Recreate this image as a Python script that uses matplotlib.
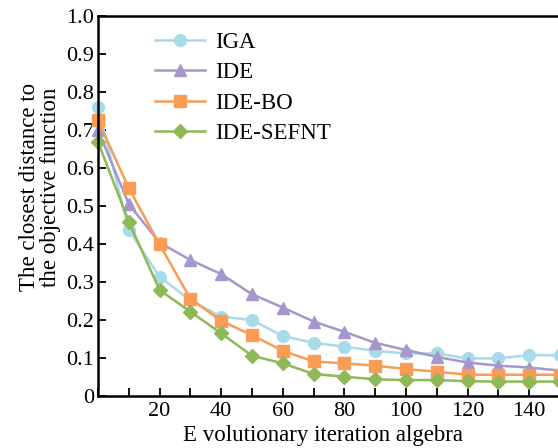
import matplotlib.pyplot as plt
from matplotlib.ticker import MultipleLocator

plt.rcParams['font.family'] = ['Liberation Serif', 'DejaVu Serif']

# iteration counts and the closest distance of each method
iterations = [0, 10, 20, 30, 40, 50, 60, 70, 80, 90, 100, 110, 120, 130, 140, 150]
iga = [0.761, 0.437, 0.314, 0.252, 0.209, 0.200, 0.158, 0.140, 0.130, 0.119,
       0.112, 0.112, 0.099, 0.099, 0.108, 0.107]
ide = [0.700, 0.505, 0.404, 0.358, 0.321, 0.268, 0.233, 0.196, 0.169, 0.140,
       0.121, 0.103, 0.088, 0.080, 0.075, 0.067]
ide_bo = [0.726, 0.547, 0.399, 0.256, 0.198, 0.160, 0.119, 0.091, 0.086, 0.080,
          0.071, 0.064, 0.056, 0.056, 0.056, 0.056]
ide_sefnt = [0.669, 0.459, 0.279, 0.222, 0.165, 0.106, 0.086, 0.058, 0.051, 0.044,
             0.042, 0.042, 0.039, 0.038, 0.038, 0.038]

series = [
    ('IGA', iga, '#a8dbe8', 'o'),
    ('IDE', ide, '#a696cb', '^'),
    ('IDE-BO', ide_bo, '#f89c56', 's'),
    ('IDE-SEFNT', ide_sefnt, '#8fb957', 'D'),
]

fig = plt.figure(figsize=(5.58, 4.48), dpi=100)
ax = fig.add_axes([0.1756, 0.116, 0.828, 0.848])

for name, vals, color, marker in series:
    line, = ax.plot(iterations, vals, color=color, marker=marker,
                    markersize=8.5 if marker != 'D' else 7,
                    markeredgecolor=color, linewidth=1.8, label=name)
    line.set_clip_on(False)

ax.set_xlim(0, 150)
ax.set_ylim(0, 1.0)
ax.xaxis.set_minor_locator(MultipleLocator(10))
ax.set_xticks([20, 40, 60, 80, 100, 120, 140])
ax.set_yticks([i / 10 for i in range(11)])
ax.set_yticklabels(['0'] + [f'{i / 10:.1f}' for i in range(1, 11)])
ax.tick_params(axis='both', which='both', direction='in', labelsize=16, width=1.3)
ax.tick_params(axis='both', which='major', length=6)
ax.tick_params(axis='x', which='minor', length=6)
ax.tick_params(axis='x', pad=4)
ax.tick_params(axis='y', pad=3)

for side in ['left', 'bottom', 'top', 'right']:
    ax.spines[side].set_linewidth(1.8)

ax.set_xlabel('E volutionary iteration algebra', fontsize=16.5)
ax.xaxis.set_label_coords(0.487, -0.075)
ax.set_ylabel('The closest distance to\nthe objective function', fontsize=16.5,
              linespacing=0.95)
ax.yaxis.set_label_coords(-0.081, 0.55)

ax.legend(loc='upper left', bbox_to_anchor=(0.123, 0.958), frameon=False, fontsize=16.5,
          handlelength=2.2, handletextpad=0.45, labelspacing=0.4,
          borderpad=0, borderaxespad=0)

fig.savefig('out.png', dpi=100)
